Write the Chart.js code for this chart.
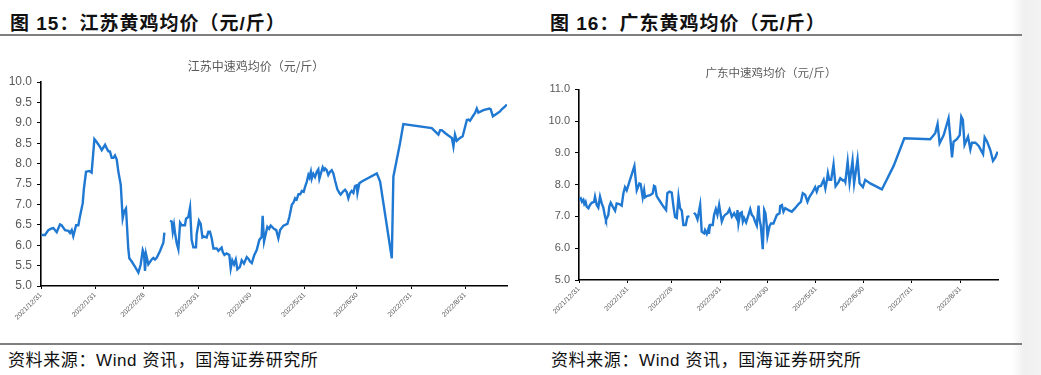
<!DOCTYPE html>
<html>
<head>
<meta charset="utf-8">
<script src="https://cdn.jsdelivr.net/npm/chart.js@4.4.1/dist/chart.umd.min.js"></script>
<style>
  html, body { margin: 0; padding: 0; background: #fff; }
  body { width: 1041px; height: 375px; position: relative; overflow: hidden; }
  .hdr { position: absolute; top: 8px; font-family: "Liberation Sans", "Noto Sans CJK SC", sans-serif; font-weight: bold; font-size: 19px; color: #111; letter-spacing: 1px; white-space: nowrap; }
  .rule { position: absolute; left: 0; width: 1022px; height: 2px; background: #7f7f7f; }
  .ftr { position: absolute; top: 346px; font-family: "Liberation Sans", "Noto Sans CJK SC", sans-serif; font-size: 17px; letter-spacing: 0.6px; color: #111; white-space: nowrap; }
  .strip { position: absolute; top: 0; left: 1012px; width: 29px; height: 375px; background: linear-gradient(to right, #ffffff, #f0f0f0 40%, #f3f3f3); }
  canvas { position: absolute; }
</style>
</head>
<body>
<div class="strip"></div>
<div class="hdr" style="left:10px">图 15：江苏黄鸡均价（元/斤）</div>
<div class="hdr" style="left:550px">图 16：广东黄鸡均价（元/斤）</div>
<div class="rule" style="top:34px"></div>
<div class="rule" style="top:343px"></div>
<div class="ftr" style="left:8px">资料来源：Wind 资讯，国海证券研究所</div>
<div class="ftr" style="left:551px">资料来源：Wind 资讯，国海证券研究所</div>
<canvas id="c1" width="515" height="300" style="left:5px;top:40px;width:515px;height:300px"></canvas>
<canvas id="c2" width="476" height="300" style="left:544px;top:40px;width:476px;height:300px"></canvas>
<script>
// Month-end ticks: day offsets since 2021/12/31 and their labels
const tickDays = [0, 31, 59, 90, 120, 151, 181, 212, 243];
const tickLabels = ["2021/12/31", "2022/1/31", "2022/2/28", "2022/3/31", "2022/4/30", "2022/5/31", "2022/6/30", "2022/7/31", "2022/8/31"];

// 江苏中速鸡均价 (days since 2021/12/31, 元/斤); null = no data
const jsDay = [0.4,2.3,4.2,6.1,7.1,9,10.9,11.8,13.8,15.7,16.6,17.6,18.5,20.1,21.4,22.3,23.9,24.6,25.8,27.7,29,30.6,31.9,33.8,34.8,36.7,37.6,38.6,39.5,40.5,41.5,42.4,43.4,44.3,45.7,46.8,47.6,48.7,50,50.6,52,53.9,55.8,57.1,58.3,59,59.6,60.2,61.5,63.4,64.4,65.3,66.3,68.2,70.1,70.7,
  72.3,
  73.9,74.9,75.5,76.2,76.8,77.7,78.7,79.7,80.6,82.5,83.1,84.4,85.4,86.3,87.3,88.8,89.2,90.5,91.5,92.5,93.4,94.9,95.9,96.8,97.8,98.8,100.7,101.6,103.5,104.1,105.1,106.4,107.9,108.7,109.6,110.6,111.6,112.5,114,115,116.3,117.9,118.8,119.8,120.8,122.1,123.6,125.1,126.4,127,127.8,128.9,129.7,130.7,131.6,133.5,134.8,136,137,138.9,141.2,142.3,143.7,144.7,145.6,146.5,147.5,148.5,149.5,150.5,151.3,152.3,153.2,153.8,154.6,155.1,156,157,158,158.9,159.5,160.3,161.4,162.2,162.8,163.7,164.6,165.6,166.6,167.5,168.5,169.8,171,171.7,172.9,174.2,175.1,176.1,177.1,178,179,179.9,180.9,181.3,182.4,183.8,192.4,194.3,201,201.9,203.8,205.7,207.6,223.9,225.8,227.7,228.7,229.6,231.5,233.4,235.4,236.3,237.2,238.2,240.1,241.6,244,244.9,245.8,247.4,248.7,249.7,250.6,253.5,256.9,257.7,258.9,261.1,263,264,265.9,266.9];
const jsVal = [6.25,6.25,6.37,6.41,6.42,6.32,6.51,6.49,6.37,6.35,6.30,6.37,6.22,6.49,6.49,6.70,7.03,7.39,7.80,7.82,7.78,8.60,8.53,8.41,8.33,8.46,8.38,8.30,8.30,8.14,8.14,8.20,8.10,7.81,7.48,6.66,6.82,6.90,5.92,5.68,5.60,5.47,5.33,5.52,5.88,5.80,5.37,5.78,5.53,5.65,5.69,5.65,5.69,5.86,6.06,6.31,
  null,
  6.60,6.58,6.33,6.50,6.30,6.06,5.90,6.55,6.49,6.49,6.65,6.69,6.92,6.13,5.95,5.95,6.27,6.60,6.52,6.19,6.21,6.19,6.33,6.33,6.17,5.92,5.92,5.86,5.94,5.84,5.76,5.80,5.76,5.43,5.63,5.53,5.65,5.41,5.47,5.63,5.55,5.71,5.67,5.60,5.56,5.75,5.88,6.13,6.20,6.72,6.09,6.30,6.45,6.40,6.48,6.40,6.37,6.17,6.37,6.48,6.52,6.69,6.99,7.05,7.15,7.12,7.25,7.25,7.33,7.31,7.43,7.56,7.72,7.66,7.80,7.63,7.75,7.67,7.80,7.86,7.63,7.75,7.91,7.84,7.88,7.84,7.72,7.80,7.84,7.76,7.58,7.37,7.28,7.24,7.31,7.36,7.31,7.15,7.28,7.33,7.28,7.45,7.47,7.28,7.52,7.56,7.76,7.56,5.68,7.68,8.09,8.50,8.97,8.87,8.79,8.71,8.82,8.82,8.75,8.69,8.63,8.42,8.71,8.56,8.63,8.67,9.07,9.08,9.05,9.16,9.24,9.35,9.25,9.31,9.35,9.33,9.16,9.22,9.28,9.33,9.40,9.45];

// 广东中速鸡均价 (days since 2021/12/31, 元/斤); null = no data
const gdDay = [0,1.1,1.9,2.8,3.4,4.2,4.9,6,7,8.1,9.6,10.2,11.3,12.3,13.4,14.5,15.5,16.6,17.2,18.7,19.3,20.2,21.5,23,24,25.7,27.2,28.3,29.3,30.4,35.3,36.8,38.5,39.3,40.6,41.5,42.1,43.2,45.3,47,47.8,48.5,49.5,51.7,53.8,55.5,56.3,57.6,59.1,60.2,61.2,62.3,63.4,64.4,65.5,66.5,68,69.1,70.4,
  71.8,
  73.3,74.4,75.5,77.2,78.2,79.7,80.3,81.4,82.4,82.8,83.5,85.2,86.1,87.2,88.2,89.3,91,92.1,93.1,94.6,95.9,97.4,98.9,100.6,101,101.6,102.7,103.7,104.4,105.2,106.5,108,109.1,110.1,111.2,112.2,113.3,114.4,115,115.9,117.1,118,118.8,119.7,120.1,121.4,122.3,123.9,126.1,127.8,128.2,129.3,130.3,131.4,133.5,135.6,137.7,139.9,141.4,142.6,144.1,145.6,146.9,149,150.5,151.5,152.6,154.1,155.9,157,158,158.6,159.5,160.7,162.2,163.5,165.4,166.5,168.2,169.1,169.7,171.2,172.4,174.3,175.3,177.5,178.8,180.9,182.4,185.6,193,200.5,207.3,223.8,227,228.5,229.8,232.4,235.5,237.7,238.7,240.8,242.6,243.6,244.6,245.7,247.9,249.4,250.4,252.6,254.7,257.5,258.5,260,262.1,263.8,265.3,266.8];
const gdVal = [7.52,7.57,7.46,7.52,7.39,7.46,7.31,7.26,7.36,7.43,7.46,7.62,7.36,7.28,7.62,7.41,7.28,6.99,6.89,7.05,7.31,7.43,7.31,7.18,7.41,7.39,7.34,7.73,7.92,7.82,8.59,7.82,8.04,8.02,7.60,7.83,7.60,7.64,7.67,7.73,7.96,7.94,7.64,7.47,7.31,7.20,7.73,7.78,7.75,7.31,6.98,6.95,7.62,7.26,7.18,6.73,6.73,6.99,7.00,
  null,
  7.12,7.05,6.91,7.36,6.52,6.47,6.57,6.45,6.60,6.45,6.73,6.73,7.05,7.23,7.05,7.36,6.84,6.99,7.05,7.10,7.23,6.99,7.10,6.93,7.20,6.78,7.10,7.13,6.84,6.95,6.81,7.05,7.23,7.05,6.99,6.84,6.71,7.34,6.92,6.69,5.97,7.20,7.10,6.69,6.38,6.69,6.78,6.78,7.05,7.10,7.33,7.36,7.15,7.26,7.20,7.15,7.26,7.39,7.46,7.73,7.68,7.46,7.62,7.78,7.92,7.78,7.94,7.96,8.15,7.88,8.15,8.36,8.15,8.15,8.64,7.95,8.08,8.20,8.13,8.15,8.08,8.72,8.06,8.75,8.04,8.80,8.04,7.92,8.15,8.04,7.85,8.59,9.46,9.43,9.62,9.91,9.30,9.56,10.09,8.86,9.35,9.43,9.56,10.14,10.04,9.25,9.51,9.11,9.32,9.32,9.22,8.96,9.49,9.36,9.09,8.75,8.86,9.04];

const lineColor = '#1f78d2';
const gray = '#595959';

function makeChart(id, cfg) {
  const pts = cfg.days.map((d, i) => ({ x: d, y: cfg.vals[i] }));
  return new Chart(document.getElementById(id), {
    type: 'line',
    data: { datasets: [{ data: pts, borderColor: lineColor, borderWidth: 2.4, pointRadius: 0, tension: 0, spanGaps: false, fill: false }] },
    options: {
      responsive: false, animation: false, events: [],
      layout: { padding: { right: cfg.padRight, left: 0, top: 0, bottom: 0 } },
      plugins: {
        legend: { display: false }, tooltip: { enabled: false },
        title: { display: true, text: cfg.title, color: gray,
          font: { family: '"Noto Sans CJK SC", sans-serif', size: cfg.titleSize, weight: 'normal', lineHeight: 1.2 },
          padding: { top: cfg.titleTop, bottom: cfg.titleBottom } }
      },
      scales: {
        x: {
          type: 'linear', min: 0, max: 267,
          afterBuildTicks: s => { s.ticks = tickDays.map(v => ({ value: v })); },
          afterFit: s => { s.height = cfg.xHeight; },
          ticks: { autoSkip: false, minRotation: 45, maxRotation: 45, color: gray, padding: 2,
            font: { family: '"Liberation Sans", sans-serif', size: 7 },
            callback: (v, i) => tickLabels[i] },
          grid: { drawOnChartArea: false, drawTicks: true, tickLength: 3, color: '#000', lineWidth: 1 },
          border: { display: true, color: '#000', width: 1.6 }
        },
        y: {
          min: cfg.yMin, max: cfg.yMax,
          afterBuildTicks: s => { const t = []; for (let v = cfg.yMin; v <= cfg.yMax + 1e-9; v += 0.5) t.push({ value: +v.toFixed(1) }); s.ticks = t; },
          afterFit: s => { s.width = cfg.yWidth; },
          ticks: { color: gray, padding: 5, font: { family: '"Liberation Sans", sans-serif', size: cfg.ySize },
            callback: v => (cfg.intOnly && Math.abs(v - Math.round(v)) > 1e-6) ? '' : v.toFixed(1) },
          grid: { drawOnChartArea: false, drawTicks: true, tickLength: 4, color: '#000', lineWidth: 1 },
          border: { display: true, color: '#000', width: 1.6 }
        }
      }
    }
  });
}

makeChart('c1', { days: jsDay, vals: jsVal, title: '江苏中速鸡均价（元/斤）', titleSize: 12, titleTop: 18.8, titleBottom: 8.8,
  yMin: 5, yMax: 10, yWidth: 36, ySize: 12, intOnly: false, xHeight: 54, padRight: 13 });
makeChart('c2', { days: gdDay, vals: gdVal, title: '广东中速鸡均价（元/斤）', titleSize: 11.5, titleTop: 26.1, titleBottom: 9.4,
  yMin: 5, yMax: 11, yWidth: 35, ySize: 11, intOnly: true, xHeight: 60, padRight: 22 });
</script>
</body>
</html>
